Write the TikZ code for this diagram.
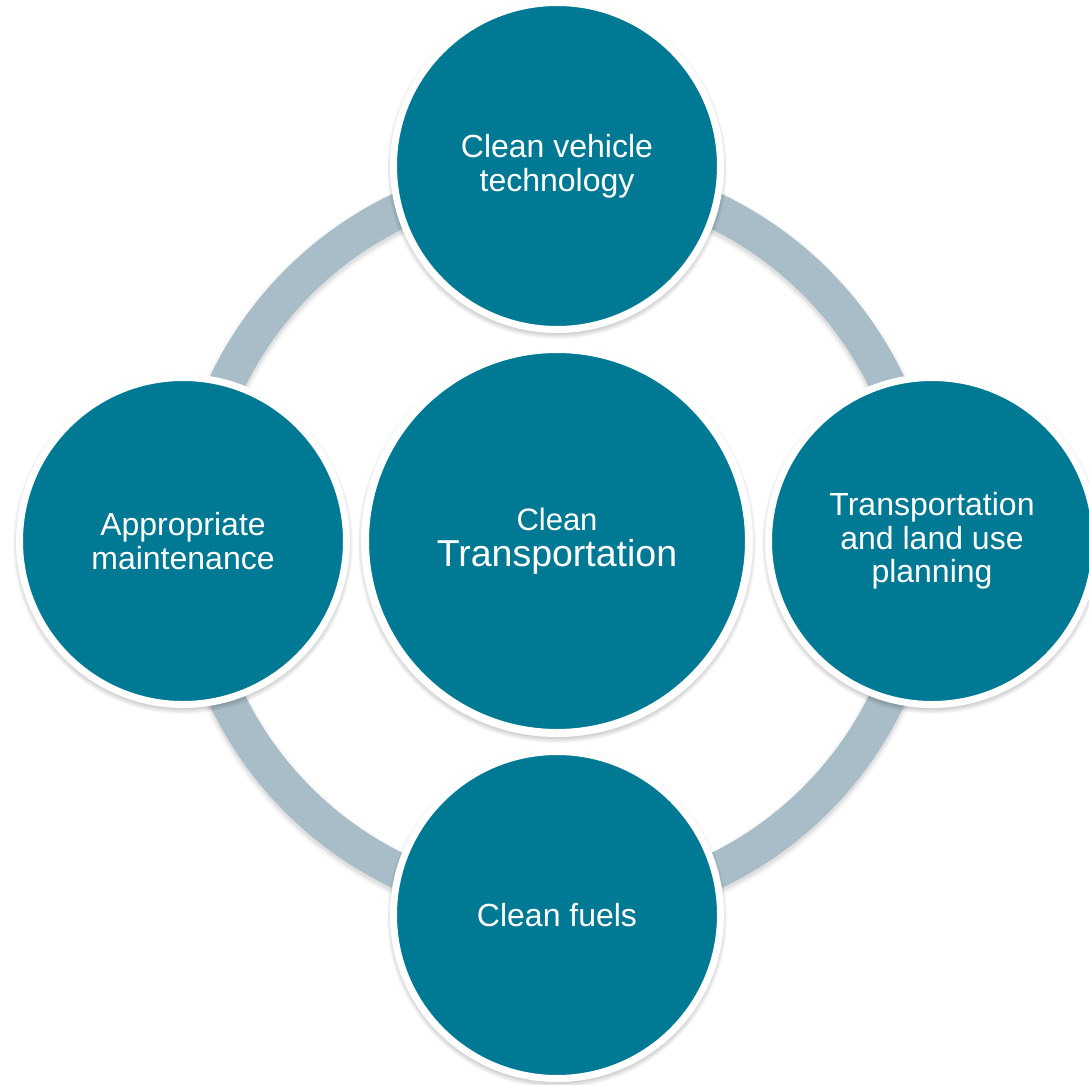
\documentclass[tikz,border=0pt]{standalone}
\usepackage{fontspec}
\setmainfont{Liberation Sans}
\definecolor{tealc}{RGB}{0,121,148}
\definecolor{ringc}{RGB}{168,189,199}
\begin{document}
\begin{tikzpicture}[x=1pt,y=-1pt,
  bubble/.style={circle, fill=tealc, draw=white, line width=7pt, minimum size=327pt,
    inner sep=0pt, text=white, align=center, font=\fontsize{32}{33.5}\selectfont},
  hub/.style={bubble, line width=8pt, minimum size=384pt, font=\fontsize{31}{33.3}\selectfont},
  softshade/.style={fill=black, opacity=0.03}]
\fill[white] (0,0) rectangle (1089,1084);
\useasboundingbox (0,0) rectangle (1089,1084);
\coordinate (O) at (557,541);
\coordinate (pT) at (557,166);
\coordinate (pL) at (183,541);
\coordinate (pR) at (932,541);
\coordinate (pB) at (557,915);
% ring shadow and ring
\foreach \w/\o in {44/0.03,40/0.04,37/0.05}
  \draw[black, opacity=\o, line width=\w pt] ([yshift=-3pt]O) circle[radius=366pt];
\draw[ringc, line width=36pt] (O) circle[radius=366pt];
% circle shadows
\foreach \p/\r in {pT/167,pL/167,pR/167,pB/167,O/196}
  \foreach \k in {0,...,5}
    \fill[softshade] ([yshift=-3pt]\p) circle[radius=\r pt-2pt+\k pt];
% circles
\node[bubble] (top) at (pT) {Clean vehicle\\technology};
\node[bubble] (left) at (pL) {Appropriate\\maintenance};
\node[bubble] (right) at (pR) {Transportation\\and land use\\planning};
\node[bubble] (bottom) at (pB) {Clean fuels};
\node[hub] (hub) at (O) {Clean\\[2.7pt]{\fontsize{37.5}{40}\selectfont Transportation}};
\end{tikzpicture}
\end{document}
